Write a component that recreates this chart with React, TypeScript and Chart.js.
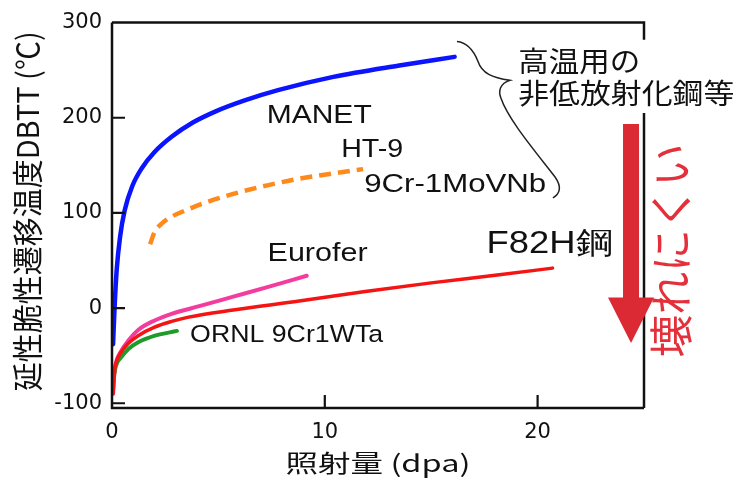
import React, { useEffect, useRef } from "react";
import { Chart, registerables } from "chart.js";
Chart.register(...registerables);

// ---- data (dpa vs DBTT) ----
const manetDpa = [0.05, 0.12, 0.22, 0.38, 0.6, 0.95, 1.4, 2.0, 2.8, 3.8, 4.9, 6.2, 7.8, 10.4, 13.5, 16.1];
const manetDbtt = [-38, 0, 40, 75, 103, 128, 147, 164, 180, 195, 207, 218, 229, 243, 255, 264];

const ht9Dpa = [1.79, 2.0, 2.35, 2.8, 3.6, 4.4, 5.7, 7.3, 8.8, 10.4, 11.8];
const ht9Dbtt = [67, 80, 89, 96, 104, 111, 120, 129, 136, 141.5, 146];

const euroDpa = [0.05, 0.09, 0.14, 0.23, 0.38, 0.77, 1.23, 2.0, 2.8, 4.1, 5.7, 7.3, 9.15];
const euroDbtt = [-90, -74, -62, -54, -47, -34, -23, -13, -6, 2, 12, 22, 34];

const f82hDpa = [0.05, 0.09, 0.14, 0.23, 0.38, 0.77, 1.23, 2.0, 2.8, 3.6, 5.7, 8.8, 11.9, 15.0, 18.2, 20.7];
const f82hDbtt = [-90, -74, -63, -55, -48, -37, -29, -20, -14, -9.5, -2, 7.5, 17.5, 26.5, 35, 42];

const ornlDpa = [0.05, 0.09, 0.14, 0.23, 0.38, 0.77, 1.23, 2.02, 3.05];
const ornlDbtt = [-86, -73, -65, -58, -53, -43, -36, -29, -24];

const xTickValues = [0, 10, 20];
const yTickValues = [-100, 0, 100, 200, 300];
const xMin = 0;
const xMax = 25;
const yMin = -105;
const yMax = 300;

const xTitle = "照射量 (dpa)";
const yTitle = "延性脆性遷移温度DBTT (℃)";

const pts = (xs: number[], ys: number[]) => xs.map((x, i) => ({ x, y: ys[i] }));

const LATIN = "'Liberation Sans', Arial, sans-serif";
const TICKFONT = "'DejaVu Sans', 'Liberation Sans', sans-serif";
const CJK = "'Noto Sans CJK JP', 'Noto Sans', sans-serif";

// draws text horizontally stretched so that it spans the given width
function fitText(
  ctx: CanvasRenderingContext2D,
  s: string,
  x: number,
  y: number,
  font: string,
  color: string,
  width: number,
  align: "left" | "center" = "left",
  baseline: CanvasTextBaseline = "alphabetic",
  rotation = 0,
  cross = 1
) {
  ctx.save();
  ctx.font = font;
  ctx.fillStyle = color;
  ctx.textAlign = align;
  ctx.textBaseline = baseline;
  const w = ctx.measureText(s).width;
  ctx.translate(x, y);
  if (rotation) ctx.rotate(rotation);
  ctx.scale(width / w, cross);
  ctx.fillText(s, 0, 0);
  ctx.restore();
}

const decorPlugin = {
  id: "decor",
  afterDatasetsDraw(chart: any) {
    const { ctx, chartArea: a, scales } = chart;
    const xs = scales.x;
    const ys = scales.y;
    const px = (v: number) => xs.getPixelForValue(v);
    const py = (v: number) => ys.getPixelForValue(v);
    ctx.save();

    // frame
    ctx.strokeStyle = "#111";
    ctx.lineWidth = 2.5;
    ctx.lineCap = "butt";
    ctx.beginPath();
    ctx.moveTo(a.left, a.top);
    ctx.lineTo(a.left, a.bottom);
    ctx.lineTo(a.right, a.bottom);
    ctx.moveTo(a.left, a.top);
    ctx.lineTo(a.right, a.top);
    ctx.lineTo(a.right, py(282));
    ctx.moveTo(a.right, py(205));
    ctx.lineTo(a.right, a.bottom);
    ctx.stroke();

    // inward tick marks
    ctx.lineWidth = 2.2;
    ctx.beginPath();
    yTickValues.forEach((v) => {
      if (v === yMax) return;
      ctx.moveTo(a.left, py(v));
      ctx.lineTo(a.left + 13, py(v));
    });
    xTickValues.forEach((v) => {
      if (v === xMin) return;
      ctx.moveTo(px(v), a.bottom);
      ctx.lineTo(px(v), a.bottom - 13);
    });
    ctx.stroke();

    // axis titles
    const cx = (a.left + a.right) / 2;
    const cy = (a.top + a.bottom) / 2;
    fitText(ctx, xTitle, cx, a.bottom + 55, `24px ${CJK}`, "#111", 185, "center", "middle");
    fitText(ctx, yTitle, a.left - 84, cy - 4, `28px ${CJK}`, "#111", 360, "center", "middle", -Math.PI / 2, 1.08);

    // curve labels
    const black = "#111";
    fitText(ctx, "MANET", px(7.27), py(194), `26.5px ${LATIN}`, black, 105);
    fitText(ctx, "HT-9", px(10.77), py(159), `25.5px ${LATIN}`, black, 62);
    fitText(ctx, "9Cr-1MoVNb", px(11.85), py(122.5), `25.5px ${LATIN}`, black, 182);
    fitText(ctx, "Eurofer", px(7.31), py(50), `26.5px ${LATIN}`, black, 100);
    fitText(ctx, "ORNL 9Cr1WTa", px(3.67), py(-35.3), `24.3px ${LATIN}`, black, 193);
    fitText(ctx, "F82H鋼", px(17.6), py(57.6), `30.5px ${LATIN}`, black, 126);
    fitText(ctx, "高温用の", px(19.09), py(259), `28px ${CJK}`, black, 122, "left", "middle");
    fitText(ctx, "非低放射化鋼等", px(19.09), py(225.6), `28px ${CJK}`, black, 216, "left", "middle");

    // curly brace
    ctx.strokeStyle = "#222";
    ctx.lineWidth = 1.5;
    ctx.beginPath();
    ctx.moveTo(px(16.21), py(280.1));
    ctx.bezierCurveTo(px(16.73), py(279.1), px(17.01), py(269.7), px(17.2), py(259.2));
    ctx.bezierCurveTo(px(17.39), py(246.6), px(17.86), py(242.4), px(18.7), py(239.3));
    ctx.bezierCurveTo(px(18.23), py(236.2), px(18.14), py(227.8), px(18.28), py(220.5));
    ctx.bezierCurveTo(px(18.61), py(198.5), px(19.88), py(165), px(20.82), py(137.8));
    ctx.bezierCurveTo(px(21.15), py(127.3), px(21.05), py(120), px(20.72), py(115.8));
    ctx.stroke();

    // red arrow
    const ax = px(24.39);
    ctx.fillStyle = "#dc2a35";
    ctx.beginPath();
    ctx.moveTo(ax - 8, py(193.4));
    ctx.lineTo(ax + 8, py(193.4));
    ctx.lineTo(ax + 8, py(11.2));
    ctx.lineTo(ax + 23, py(11.2));
    ctx.lineTo(ax, py(-36.8));
    ctx.lineTo(ax - 23, py(11.2));
    ctx.lineTo(ax - 8, py(11.2));
    ctx.closePath();
    ctx.fill();

    // vertical red text
    fitText(ctx, "壊れにくい", px(26.27), py(60.4), `42px ${CJK}`, "#e3303a", 214, "center", "middle", -Math.PI / 2, 1.05);

    ctx.restore();
  },
};

export default function App() {
  const ref = useRef<HTMLCanvasElement | null>(null);
  useEffect(() => {
    document.body.style.margin = "0";
    document.body.style.background = "#fff";
    const canvas = ref.current;
    if (!canvas) return;
    const line = (data: any, color: string, width: number, order: number, dash: number[] = []) => ({
      data,
      borderColor: color,
      borderWidth: width,
      borderDash: dash,
      borderCapStyle: dash.length ? "butt" : "round",
      pointRadius: 0,
      pointHoverRadius: 0,
      cubicInterpolationMode: "monotone",
      fill: false,
      order,
    });
    const chart = new Chart(canvas, {
      type: "line",
      data: {
        datasets: [
          line(pts(manetDpa, manetDbtt), "#0a14ff", 4.5, 5),
          line(pts(ht9Dpa, ht9Dbtt), "#ff8a1c", 4.5, 4, [12, 7]),
          line(pts(euroDpa, euroDbtt), "#f43c9e", 4, 3),
          line(pts(f82hDpa, f82hDbtt), "#f41414", 3.5, 1),
          line(pts(ornlDpa, ornlDbtt), "#1f9b2a", 4, 2),
        ] as any,
      },
      options: {
        responsive: false,
        animation: false,
        events: [],
        layout: { padding: { top: 21, right: 96, left: 0, bottom: 0 } },
        plugins: { legend: { display: false }, tooltip: { enabled: false } },
        scales: {
          x: {
            type: "linear",
            min: xMin,
            max: xMax,
            grid: { display: false, drawTicks: false },
            border: { display: false },
            afterBuildTicks: (s: any) => {
              s.ticks = xTickValues.map((v) => ({ value: v }));
            },
            afterFit: (s: any) => {
              s.height = 70;
            },
            ticks: {
              padding: 12,
              maxRotation: 0,
              color: "#111",
              font: { family: TICKFONT, size: 21 },
            },
            title: { display: false, text: xTitle },
          },
          y: {
            type: "linear",
            min: yMin,
            max: yMax,
            grid: { display: false, drawTicks: false },
            border: { display: false },
            afterBuildTicks: (s: any) => {
              s.ticks = yTickValues.map((v) => ({ value: v }));
            },
            afterFit: (s: any) => {
              s.width = 112;
            },
            ticks: {
              padding: 10,
              color: "#111",
              font: { family: TICKFONT, size: 21 },
            },
            title: { display: false, text: yTitle },
          },
        },
      } as any,
      plugins: [decorPlugin as any],
    });
    return () => chart.destroy();
  }, []);
  return (
    <div style={{ position: "fixed", left: 0, top: 0, width: 740, height: 478, background: "#fff" }}>
      <canvas ref={ref} width={740} height={478} style={{ display: "block", width: 740, height: 478 }} />
    </div>
  );
}
